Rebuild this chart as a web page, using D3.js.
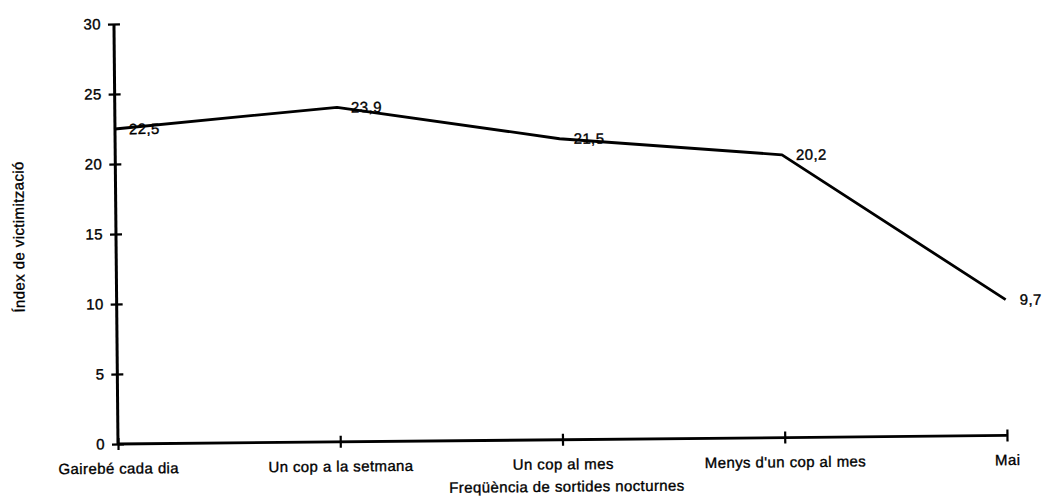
<!DOCTYPE html>
<html>
<head>
<meta charset="utf-8">
<script src="https://cdn.jsdelivr.net/npm/d3@7"></script>
<style>
  html, body { margin: 0; padding: 0; background: #fff; }
  svg { display: block; }
  text { font-family: "Liberation Sans", Arial, Helvetica, sans-serif; fill: #000; letter-spacing: 0.4px; stroke: #000; stroke-width: 0.35px; }
</style>
</head>
<body>
<svg id="chart" width="1044" height="497"></svg>
<script>
// Frequency of night outings vs. victimisation index
const categories = ["Gairebé cada dia", "Un cop a la setmana", "Un cop al mes", "Menys d'un cop al mes", "Mai"];
const values = [22.5, 23.9, 21.5, 20.2, 9.7];
const valueLabels = ["22,5", "23,9", "21,5", "20,2", "9,7"];
const yTicks = [0, 5, 10, 15, 20, 25, 30];
const xTitle = "Freqüència de sortides nocturnes";
const yTitle = "Índex de victimització";

const W = 1044, H = 497;
const x0 = 118, x1 = 1007, yBottom = 444, yTop = 24;

const svg = d3.select("#chart");
svg.append("rect").attr("width", W).attr("height", H).attr("fill", "#fff");

// the printed chart sits slightly tilted on the page
const g = svg.append("g").attr("transform", `rotate(-0.55, ${x0}, ${yBottom})`);

const x = d3.scalePoint().domain(categories).range([x0, x1]);
const y = d3.scaleLinear().domain([0, 30]).range([yBottom, yTop]);

// y axis with cross ticks
const yAxis = g.append("g").attr("transform", `translate(${x0},0)`)
  .call(d3.axisLeft(y).tickValues(yTicks).tickSize(0).tickPadding(13).tickFormat(d3.format("d")));
yAxis.select(".domain").remove();
yAxis.selectAll(".tick text").attr("font-size", 15).attr("fill", "#000")
  .attr("font-family", "Liberation Sans, Arial, sans-serif");
yAxis.selectAll(".tick").append("line")
  .attr("x1", -6).attr("x2", 6).attr("stroke", "#000").attr("stroke-width", 2.2);
yAxis.append("line").attr("x1", 0).attr("x2", 0)
  .attr("y1", y(30)).attr("y2", y(0)).attr("stroke", "#000").attr("stroke-width", 3);

// x axis with cross ticks
const xAxis = g.append("g").attr("transform", `translate(0,${yBottom})`)
  .call(d3.axisBottom(x).tickSize(0).tickPadding(19));
xAxis.select(".domain").remove();
xAxis.selectAll(".tick text").attr("font-size", 15).attr("fill", "#000")
  .attr("font-family", "Liberation Sans, Arial, sans-serif");
xAxis.selectAll(".tick").append("line")
  .attr("y1", -6).attr("y2", 6).attr("stroke", "#000").attr("stroke-width", 2.2);
xAxis.append("line").attr("x1", x0).attr("x2", x1)
  .attr("y1", 0).attr("y2", 0).attr("stroke", "#000").attr("stroke-width", 2.8);

// data line
const line = d3.line().x((d, i) => x(categories[i])).y(d => y(d));
g.append("path").datum(values)
  .attr("d", line).attr("fill", "none")
  .attr("stroke", "#000").attr("stroke-width", 2.8).attr("stroke-linejoin", "round");

// value labels
g.selectAll(".val").data(values).enter().append("text")
  .attr("class", "val")
  .attr("x", (d, i) => x(categories[i]) + 14)
  .attr("y", d => y(d))
  .attr("dy", "0.35em")
  .attr("font-size", 15)
  .text((d, i) => valueLabels[i]);

// axis titles
g.append("text")
  .attr("x", (x0 + x1) / 2 + 4).attr("y", 496)
  .attr("text-anchor", "middle").attr("font-size", 15)
  .text(xTitle);

g.append("text")
  .attr("transform", `translate(26, 236) rotate(-90)`)
  .attr("text-anchor", "middle").attr("font-size", 15)
  .text(yTitle);
</script>
</body>
</html>
